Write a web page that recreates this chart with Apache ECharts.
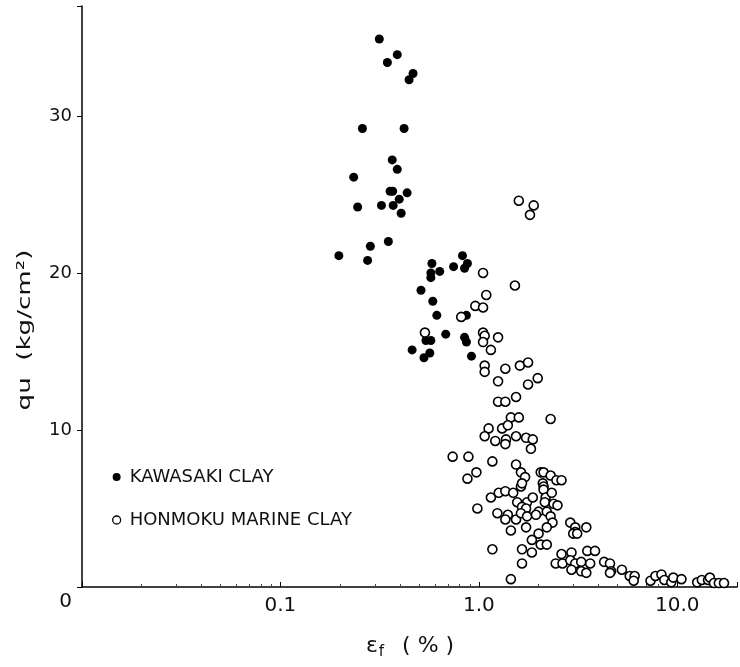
<!DOCTYPE html>
<html>
<head>
<meta charset="utf-8">
<script src="https://cdn.jsdelivr.net/npm/echarts@6/dist/echarts.min.js"></script>
<style>html,body{margin:0;padding:0;background:#fff}#c{width:740px;height:667px}</style>
</head>
<body>
<div id="c"></div>
<script>
// Kawasaki clay (filled): strain εf (%), qu (kg/cm2)
const kawasakiStrain = [0.315,0.388,0.346,0.466,0.445,0.259,0.420,0.366,0.388,0.234,0.357,0.368,0.435,0.397,0.245,0.323,0.370,0.406,0.350,0.284,0.197,0.275,0.827,0.580,0.746,0.876,0.635,0.847,0.573,0.573,0.511,0.586,0.614,0.866,0.681,0.847,0.866,0.541,0.573,0.461,0.566,0.529,0.918];
const kawasakiQu     = [34.9,33.9,33.4,32.7,32.3,29.2,29.2,27.2,26.6,26.1,25.2,25.2,25.1,24.7,24.2,24.3,24.3,23.8,22.0,21.7,21.1,20.8,21.1,20.6,20.4,20.6,20.1,20.3,20.0,19.7,18.9,18.2,17.3,17.3,16.1,15.9,15.6,15.7,15.7,15.1,14.9,14.6,14.7];
// Honmoku marine clay (open)
const honmokuStrain = [0.535,0.815,1.59,1.89,1.81,1.05,1.52,1.09,0.960,1.05,1.05,1.07,1.05,1.25,1.15,1.07,1.07,1.36,1.61,1.77,1.98,1.25,1.77,1.25,1.36,1.54,1.45,1.59,2.30,1.12,1.31,1.40,1.07,1.21,1.37,1.54,1.73,1.87,1.36,1.83,0.738,0.886,1.17,1.54,1.63,1.71,2.05,2.12,2.30,2.46,2.61,0.876,0.972,1.63,1.65,2.10,2.12,2.12,2.17,2.33,2.15,1.15,1.26,1.36,1.49,1.56,1.75,1.87,1.65,1.73,2.38,2.49,0.983,1.24,1.40,1.36,1.54,1.63,1.75,2.00,1.94,2.20,2.30,2.35,2.20,1.73,1.45,2.00,1.85,2.05,2.20,1.17,1.65,1.85,1.65,1.45,2.89,3.06,3.06,3.48,2.99,3.13,3.52,3.85,2.61,2.93,2.44,2.64,2.89,3.06,3.28,3.64,2.93,3.28,3.48,4.28,4.58,4.64,4.58,5.26,5.76,6.10,6.03,7.33,7.76,8.32,8.61,9.33,9.55,10.5,12.6,13.3,14.3,14.6,15.3,16.2,17.2];
const honmokuQu     = [16.2,17.2,24.6,24.3,23.7,20.0,19.2,18.6,17.9,17.8,16.2,16.0,15.6,15.9,15.1,14.1,13.7,13.9,14.1,14.3,13.3,13.1,12.9,11.8,11.8,12.1,10.8,10.8,10.7,10.1,10.1,10.3,9.6,9.3,9.4,9.6,9.5,9.4,9.1,8.8,8.3,8.3,8.0,7.8,7.3,7.0,7.3,7.3,7.1,6.8,6.8,6.9,7.3,6.4,6.6,6.6,6.4,6.2,5.7,6.0,5.4,5.7,6.0,6.1,6.0,5.4,5.4,5.7,5.1,5.0,5.3,5.2,5.0,4.7,4.6,4.3,4.3,4.7,4.5,4.8,4.6,4.8,4.5,4.1,3.8,3.8,3.6,3.4,3.0,2.7,2.7,2.4,2.4,2.2,1.5,0.5,4.1,3.8,3.5,3.8,3.4,3.4,2.3,2.3,2.1,2.2,1.5,1.5,1.7,1.5,1.6,1.5,1.1,1.0,0.9,1.6,1.5,1.0,0.9,1.1,0.7,0.7,0.4,0.4,0.7,0.8,0.45,0.3,0.6,0.5,0.3,0.45,0.45,0.6,0.25,0.25,0.25];
const xTickLabels = {0.1: '0.1', 1: '1.0', 10: '10.0'};
const yTickLabels = ['0', '10', '20', '30'];
const seriesNames = ['KAWASAKI CLAY', 'HONMOKU MARINE CLAY'];

const kData = kawasakiStrain.map((v, i) => [v, kawasakiQu[i]]);
const hData = honmokuStrain.map((v, i) => [v, honmokuQu[i]]);
const FONT = 'DejaVu Sans';

const chart = echarts.init(document.getElementById('c'), null, {renderer: 'canvas'});
chart.setOption({
  animation: false,
  backgroundColor: '#fff',
  grid: {left: 82, right: 0, top: 6, bottom: 80, containLabel: false},
  legend: {
    orient: 'vertical', left: 107, top: 463, itemGap: 25,
    itemWidth: 8, itemHeight: 8,
    textStyle: {fontFamily: FONT, fontSize: 18, color: '#111', padding: [0, 0, 0, 4]},
    data: [
      {name: seriesNames[0], icon: 'circle', itemStyle: {color: '#000'}},
      {name: seriesNames[1], icon: 'circle', itemStyle: {color: '#fff', borderColor: '#000', borderWidth: 1.3}}
    ]
  },
  xAxis: {
    type: 'log', logBase: 10, min: 0.01, max: 20,
    axisLine: {onZero: false, lineStyle: {color: '#000', width: 1.5}},
    axisTick: {show: true, inside: true, length: 5, lineStyle: {color: '#000'}},
    minorTick: {show: true, splitNumber: 9, length: 3, lineStyle: {color: '#444'}},
    splitLine: {show: false},
    axisLabel: {
      fontFamily: FONT, fontSize: 20, color: '#111', margin: 9,
      formatter: v => {
        for (const k in xTickLabels) { if (Math.abs(v - Number(k)) < 1e-9 * Number(k)) return xTickLabels[k]; }
        return '';
      }
    }
  },
  yAxis: {
    type: 'value', min: 0, max: 37, interval: 10,
    axisLine: {show: true, lineStyle: {color: '#000', width: 1.5}},
    axisTick: {show: true, length: 5, lineStyle: {color: '#000'}},
    splitLine: {show: false},
    axisLabel: {
      fontFamily: FONT, fontSize: 18, color: '#111', margin: 10,
      formatter: v => v === 0 ? '{z|0}' : (yTickLabels[v / 10] || ''),
      rich: {z: {fontFamily: FONT, fontSize: 20, color: '#111', padding: [30, 0, 0, 0]}}
    }
  },
  graphic: [
    {type: 'text', x: 25, y: 330, rotation: Math.PI / 2, scaleX: 1.45,
      style: {text: 'qu  (kg/cm²)', font: '18px "DejaVu Sans"', fill: '#111', align: 'center', verticalAlign: 'middle'}},
    {type: 'text', x: 410, y: 646,
      style: {text: 'ε{s|f}  ( % )', font: '22px "DejaVu Sans"', fill: '#111', align: 'center', verticalAlign: 'middle',
        rich: {s: {fontSize: 15, fontFamily: FONT, verticalAlign: 'bottom', padding: [12, 4, 0, 1]}}}}
  ],
  series: [
    {name: seriesNames[0], type: 'scatter', data: kData, symbol: 'circle', symbolSize: 9,
      itemStyle: {color: '#000', opacity: 1}},
    {name: seriesNames[1], type: 'scatter', data: hData, symbol: 'circle', symbolSize: 9,
      itemStyle: {color: '#fff', borderColor: '#000', borderWidth: 1.6, opacity: 1}}
  ]
});
</script>
</body>
</html>
